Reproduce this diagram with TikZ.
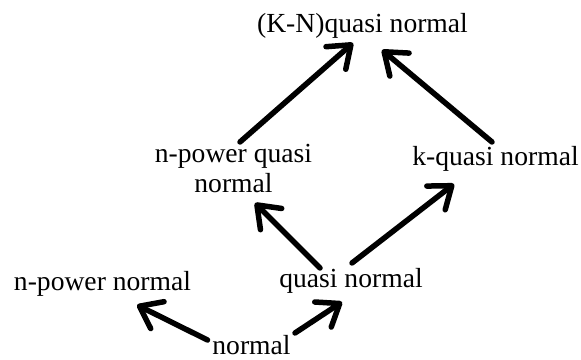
\documentclass[tikz,border=0pt]{standalone}
\usepackage{fontspec}
\setmainfont{Liberation Serif}
\usetikzlibrary{arrows.meta}
\tikzset{
  lbl/.style={inner sep=0pt, anchor=base, font=\fontsize{27.6}{30}\selectfont, align=center},
  arr/.style={line width=5.5pt, line cap=round, line join=round,
    -{Straight Barb[length=20pt,width=30pt,round]}}
}
\begin{document}
\begin{tikzpicture}[x=1pt,y=1pt]
\useasboundingbox (0,0) rectangle (581,359);
\node[lbl] (kn)  at (362.5,326) {(K-N)quasi normal};
\node[lbl] (npq) at (233.5,166) {n-power quasi\\normal};
\node[lbl] (kq)  at (495.5,193) {k-quasi normal};
\node[lbl] (npn) at (102.5,69) {n-power normal};
\node[lbl] (qn)  at (351,71) {quasi normal};
\node[lbl] (nm)  at (251.5,5) {normal};
\draw[arr] ([shift={(6.5,51)}]npq.base) -- ([shift={(-9.5,-10)}]kn.base);
\draw[arr] ([shift={(-3.5,24)}]kq.base) -- ([shift={(19.5,-17)}]kn.base);
\draw[arr] ([shift={(-31,20)}]qn.base) -- ([shift={(21.5,-10)}]npq.base);
\draw[arr] ([shift={(1,25)}]qn.base) -- ([shift={(-41.5,-18)}]kq.base);
\draw[arr] ([shift={(43.5,21)}]nm.base) -- ([shift={(-9,-14)}]qn.base);
\draw[arr] ([shift={(-44,14)}]nm.base) -- ([shift={(34.5,-15)}]npn.base);
\end{tikzpicture}
\end{document}
